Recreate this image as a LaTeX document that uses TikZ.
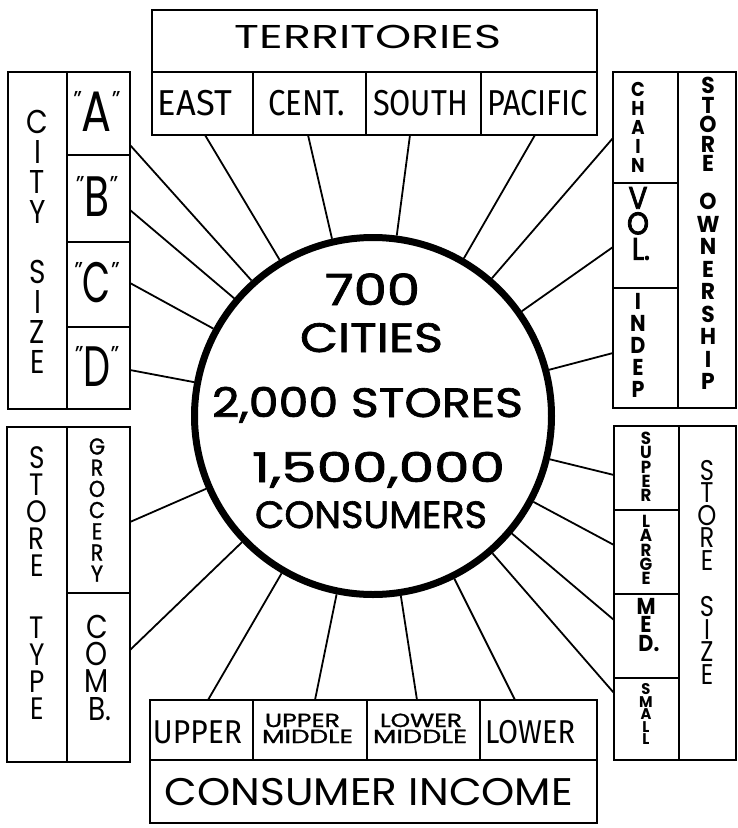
\documentclass[tikz,border=0pt]{standalone}
\usepackage{fontspec}
\setmainfont{Poppins}
\newfontfamily\fira{Fira Sans}
\newfontfamily\popbold{Poppins}[FakeBold=1.6]
\newfontfamily\popheavy{Poppins}[FakeBold=3]
\newfontfamily\popmed{Poppins}[FakeBold=1.2]
\usepackage{graphicx}
\usetikzlibrary{calc}
\newcommand\fw[2]{\resizebox{#1pt}{\height}{#2}}
\newcommand\vst[3]{\scalebox{#1}[1]{\vbox{\baselineskip=#2pt\lineskiplimit=-100pt\lineskip=0pt\halign{\hfil##\hfil\cr#3\crcr}}}}
\newcommand\qm{\raisebox{24pt}{\fontsize{23}{23}\selectfont"}}
\begin{document}
\begin{tikzpicture}[x=1pt,y=-1pt,
  box/.style={draw, line width=2.4pt, inner sep=0pt, outer sep=0pt, rectangle},
  conn/.style={line width=1.8pt},
  lbl/.style={inner sep=0pt, anchor=base},
  stk/.style={inner sep=0pt, anchor=center}]
\fill[white] (0,0) rectangle (738,828);
\useasboundingbox (0,0) rectangle (738,828);
% centre circle
\node[circle, draw, line width=7pt, minimum size=357pt, inner sep=0pt] (circ) at (373,416) {};
\node[lbl, font=\popbold\fontsize{43}{43}\selectfont] (t1) at (372.5,305) {\fw{95}{700}};
\node[lbl, font=\popbold\fontsize{41}{41}\selectfont] (t2) at (371.5,352) {\fw{143}{CITIES}};
\node[lbl, font=\popbold\fontsize{41}{41}\selectfont] (t3) at (367.5,417) {\fw{311}{2,000 STORES}};
\node[lbl, font=\popbold\fontsize{41}{41}\selectfont] (t4) at (378.5,482) {\fw{253}{1,500,000}};
\node[lbl, font=\popbold\fontsize{38}{38}\selectfont] (t5) at (371,528) {\fw{232}{CONSUMERS}};
% top box
\node[box, minimum width=445pt, minimum height=62pt] (terr) at (374.5,41) {};
\node[box, minimum width=101pt, minimum height=63pt] (east) at (202.5,103.5) {};
\node[box, minimum width=113pt, minimum height=63pt] (cent) at (309.5,103.5) {};
\node[box, minimum width=115pt, minimum height=63pt] (south) at (423.5,103.5) {};
\node[box, minimum width=116pt, minimum height=63pt] (pac) at (539,103.5) {};
\node[lbl, font=\fontsize{33}{33}\selectfont] (terrT) at (368,48) {\fw{267}{TERRITORIES}};
\node[lbl, font=\fira\fontsize{36}{36}\selectfont] (eastT) at (195,115) {\fw{74}{EAST}};
\node[lbl, font=\fira\fontsize{36}{36}\selectfont] (centT) at (306.5,115) {\fw{77}{CENT.}};
\node[lbl, font=\fira\fontsize{36}{36}\selectfont] (southT) at (420.5,115) {\fw{95}{SOUTH}};
\node[lbl, font=\fira\fontsize{36}{36}\selectfont] (pacT) at (537.5,115) {\fw{101}{PACIFIC}};
% left top box
\node[box, minimum width=59pt, minimum height=337pt] (city) at (37.5,240.5) {};
\node[box, minimum width=63pt, minimum height=83pt] (ca) at (98.5,113.5) {};
\node[box, minimum width=63pt, minimum height=87pt] (cb) at (98.5,198.5) {};
\node[box, minimum width=63pt, minimum height=85pt] (cc) at (98.5,284.5) {};
\node[box, minimum width=63pt, minimum height=82pt] (cd) at (98.5,368) {};
\node[stk, font=\fontsize{33}{33}\selectfont] (cityT) at (37.5,241.5) {\vst{0.85}{30}{C\cr I\cr T\cr Y\cr\noalign{\vskip30pt}S\cr I\cr Z\cr E}};
\node[lbl, font=\fontsize{57}{57}\selectfont] (caT) at (97,131.5) {\qm\fw{30}{A}\qm};
\node[lbl, font=\fontsize{57}{57}\selectfont] (cbT) at (97,216.5) {\qm\fw{25}{B}\qm};
\node[lbl, font=\fontsize{57}{57}\selectfont] (ccT) at (97,302.5) {\qm\fw{28}{C}\qm};
\node[lbl, font=\fontsize{57}{57}\selectfont] (cdT) at (97,386) {\qm\fw{27}{D}\qm};
% right top box
\node[box, minimum width=65pt, minimum height=111pt] (chain) at (645.5,127.5) {};
\node[box, minimum width=65pt, minimum height=105pt] (vol) at (645.5,235.5) {};
\node[box, minimum width=65pt, minimum height=120pt] (indep) at (645.5,348) {};
\node[box, minimum width=58pt, minimum height=336pt] (own) at (707,240) {};
\node[stk, font=\bfseries\fontsize{20}{20}\selectfont] (chainT) at (638,127) {\vst{0.9}{19}{C\cr H\cr A\cr I\cr N}};
\node[stk, font=\popheavy\fontsize{31}{31}\selectfont] (volT) at (638,223.5) {\vst{0.9}{25.5}{V\cr O\cr L\rlap{.}}};
\node[stk, font=\bfseries\fontsize{23}{23}\selectfont] (indepT) at (638,345) {\vst{0.9}{22}{I\cr N\cr D\cr E\cr P}};
\node[stk, font=\bfseries\fontsize{23}{23}\selectfont] (ownT1) at (708,124.5) {\vst{0.95}{19.5}{S\cr T\cr O\cr R\cr E}};
\node[stk, font=\bfseries\fontsize{23}{23}\selectfont] (ownT2) at (708,291.5) {\vst{0.95}{22.5}{O\cr W\cr N\cr E\cr R\cr S\cr H\cr I\cr P}};
% left bottom box
\node[box, minimum width=60pt, minimum height=335pt] (stype) at (37,594.5) {};
\node[box, minimum width=63pt, minimum height=166pt] (groc) at (98.5,510) {};
\node[box, minimum width=63pt, minimum height=169pt] (comb) at (98.5,677.5) {};
\node[stk, font=\fontsize{31}{31}\selectfont] (stypeT) at (37,583.5) {\vst{0.85}{27}{S\cr T\cr O\cr R\cr E\cr\noalign{\vskip35pt}T\cr Y\cr P\cr E}};
\node[stk, font=\popmed\fontsize{23}{23}\selectfont] (grocT) at (97,510) {\vst{0.9}{21.2}{G\cr R\cr O\cr C\cr E\cr R\cr Y}};
\node[stk, font=\fontsize{33}{33}\selectfont] (combT) at (97,667.5) {\vst{0.85}{27.3}{C\cr O\cr M\cr B\rlap{.}}};
% right bottom box
\node[box, minimum width=65pt, minimum height=84pt] (super) at (646.5,468) {};
\node[box, minimum width=65pt, minimum height=84pt] (large) at (646.5,552) {};
\node[box, minimum width=65pt, minimum height=84pt] (med) at (646.5,636) {};
\node[box, minimum width=65pt, minimum height=82pt] (small) at (646.5,719) {};
\node[box, minimum width=57pt, minimum height=334pt] (ssize) at (707.5,593) {};
\node[stk, font=\bfseries\fontsize{17.5}{17.5}\selectfont] (superT) at (646,467) {\vst{0.95}{14.25}{S\cr U\cr P\cr E\cr R}};
\node[stk, font=\bfseries\fontsize{17.5}{17.5}\selectfont] (largeT) at (646,550) {\vst{0.95}{14.25}{L\cr A\cr R\cr G\cr E}};
\node[stk, font=\bfseries\fontsize{23}{23}\selectfont] (medT) at (646,625) {\vst{0.9}{18.5}{M\cr E\cr D\rlap{.}}};
\node[stk, font=\bfseries\fontsize{15.5}{15.5}\selectfont] (smallT) at (646,714) {\vst{0.95}{12.5}{S\cr M\cr A\cr L\cr L}};
\node[stk, font=\fontsize{28.5}{28.5}\selectfont] (ssizeT) at (707,572) {\vst{0.85}{22.5}{S\cr T\cr O\cr R\cr E\cr\noalign{\vskip24pt}S\cr I\cr Z\cr E}};
% bottom box
\node[box, minimum width=103pt, minimum height=60pt] (upper) at (201.5,730) {};
\node[box, minimum width=114pt, minimum height=60pt] (um) at (310,730) {};
\node[box, minimum width=113pt, minimum height=60pt] (lm) at (423.5,730) {};
\node[box, minimum width=117pt, minimum height=60pt] (lower) at (538.5,730) {};
\node[box, minimum width=447pt, minimum height=63pt] (ci) at (373.5,791.5) {};
\node[lbl, font=\fira\fontsize{33}{33}\selectfont] (upperT) at (197.5,743) {\fw{89}{UPPER}};
\node[lbl, font=\popmed\fontsize{19}{19}\selectfont] (umT1) at (302.5,727) {\fw{75}{UPPER}};
\node[lbl, font=\popmed\fontsize{19}{19}\selectfont] (umT2) at (307.5,743) {\fw{91}{MIDDLE}};
\node[lbl, font=\popmed\fontsize{19}{19}\selectfont] (lmT1) at (421,727) {\fw{82}{LOWER}};
\node[lbl, font=\popmed\fontsize{19}{19}\selectfont] (lmT2) at (420,743) {\fw{94}{MIDDLE}};
\node[lbl, font=\fira\fontsize{33}{33}\selectfont] (lowerT) at (530,743) {\fw{90}{LOWER}};
\node[lbl, font=\fontsize{38.5}{38.5}\selectfont] (ciT) at (369,805) {\fw{408}{CONSUMER INCOME}};
% connectors
\draw[conn] ($(east.south)+(2.5,0)$) -- (circ);
\draw[conn] ($(cent.south)+(-1.5,0)$) -- (circ);
\draw[conn] ($(south.south)+(-13.5,0)$) -- (circ);
\draw[conn] ($(pac.south)+(-4,0)$) -- (circ);
\draw[conn] ($(ca.east)+(0,31.5)$) -- (circ);
\draw[conn] ($(cb.east)+(0,11.5)$) -- (circ);
\draw[conn] ($(cc.east)+(0,-1.5)$) -- (circ);
\draw[conn] ($(cd.east)+(0,2)$) -- (circ);
\draw[conn] ($(chain.west)+(0,10.5)$) -- (circ);
\draw[conn] ($(vol.west)+(0,11.5)$) -- (circ);
\draw[conn] ($(indep.west)+(0,5)$) -- (circ);
\draw[conn] ($(groc.east)+(0,12)$) -- (circ);
\draw[conn] ($(comb.east)+(0,-27.5)$) -- (circ);
\draw[conn] ($(super.west)+(0,7)$) -- (circ);
\draw[conn] ($(large.west)+(0,-7)$) -- (circ);
\draw[conn] ($(med.west)+(0,-16)$) -- (circ);
\draw[conn] ($(small.west)+(0,-26)$) -- (circ);
\draw[conn] ($(upper.north)+(6.5,0)$) -- (circ);
\draw[conn] ($(um.north)+(5,0)$) -- (circ);
\draw[conn] ($(lm.north)+(-6.5,0)$) -- (circ);
\draw[conn] ($(lower.north)+(-23.5,0)$) -- (circ);
\end{tikzpicture}
\end{document}
